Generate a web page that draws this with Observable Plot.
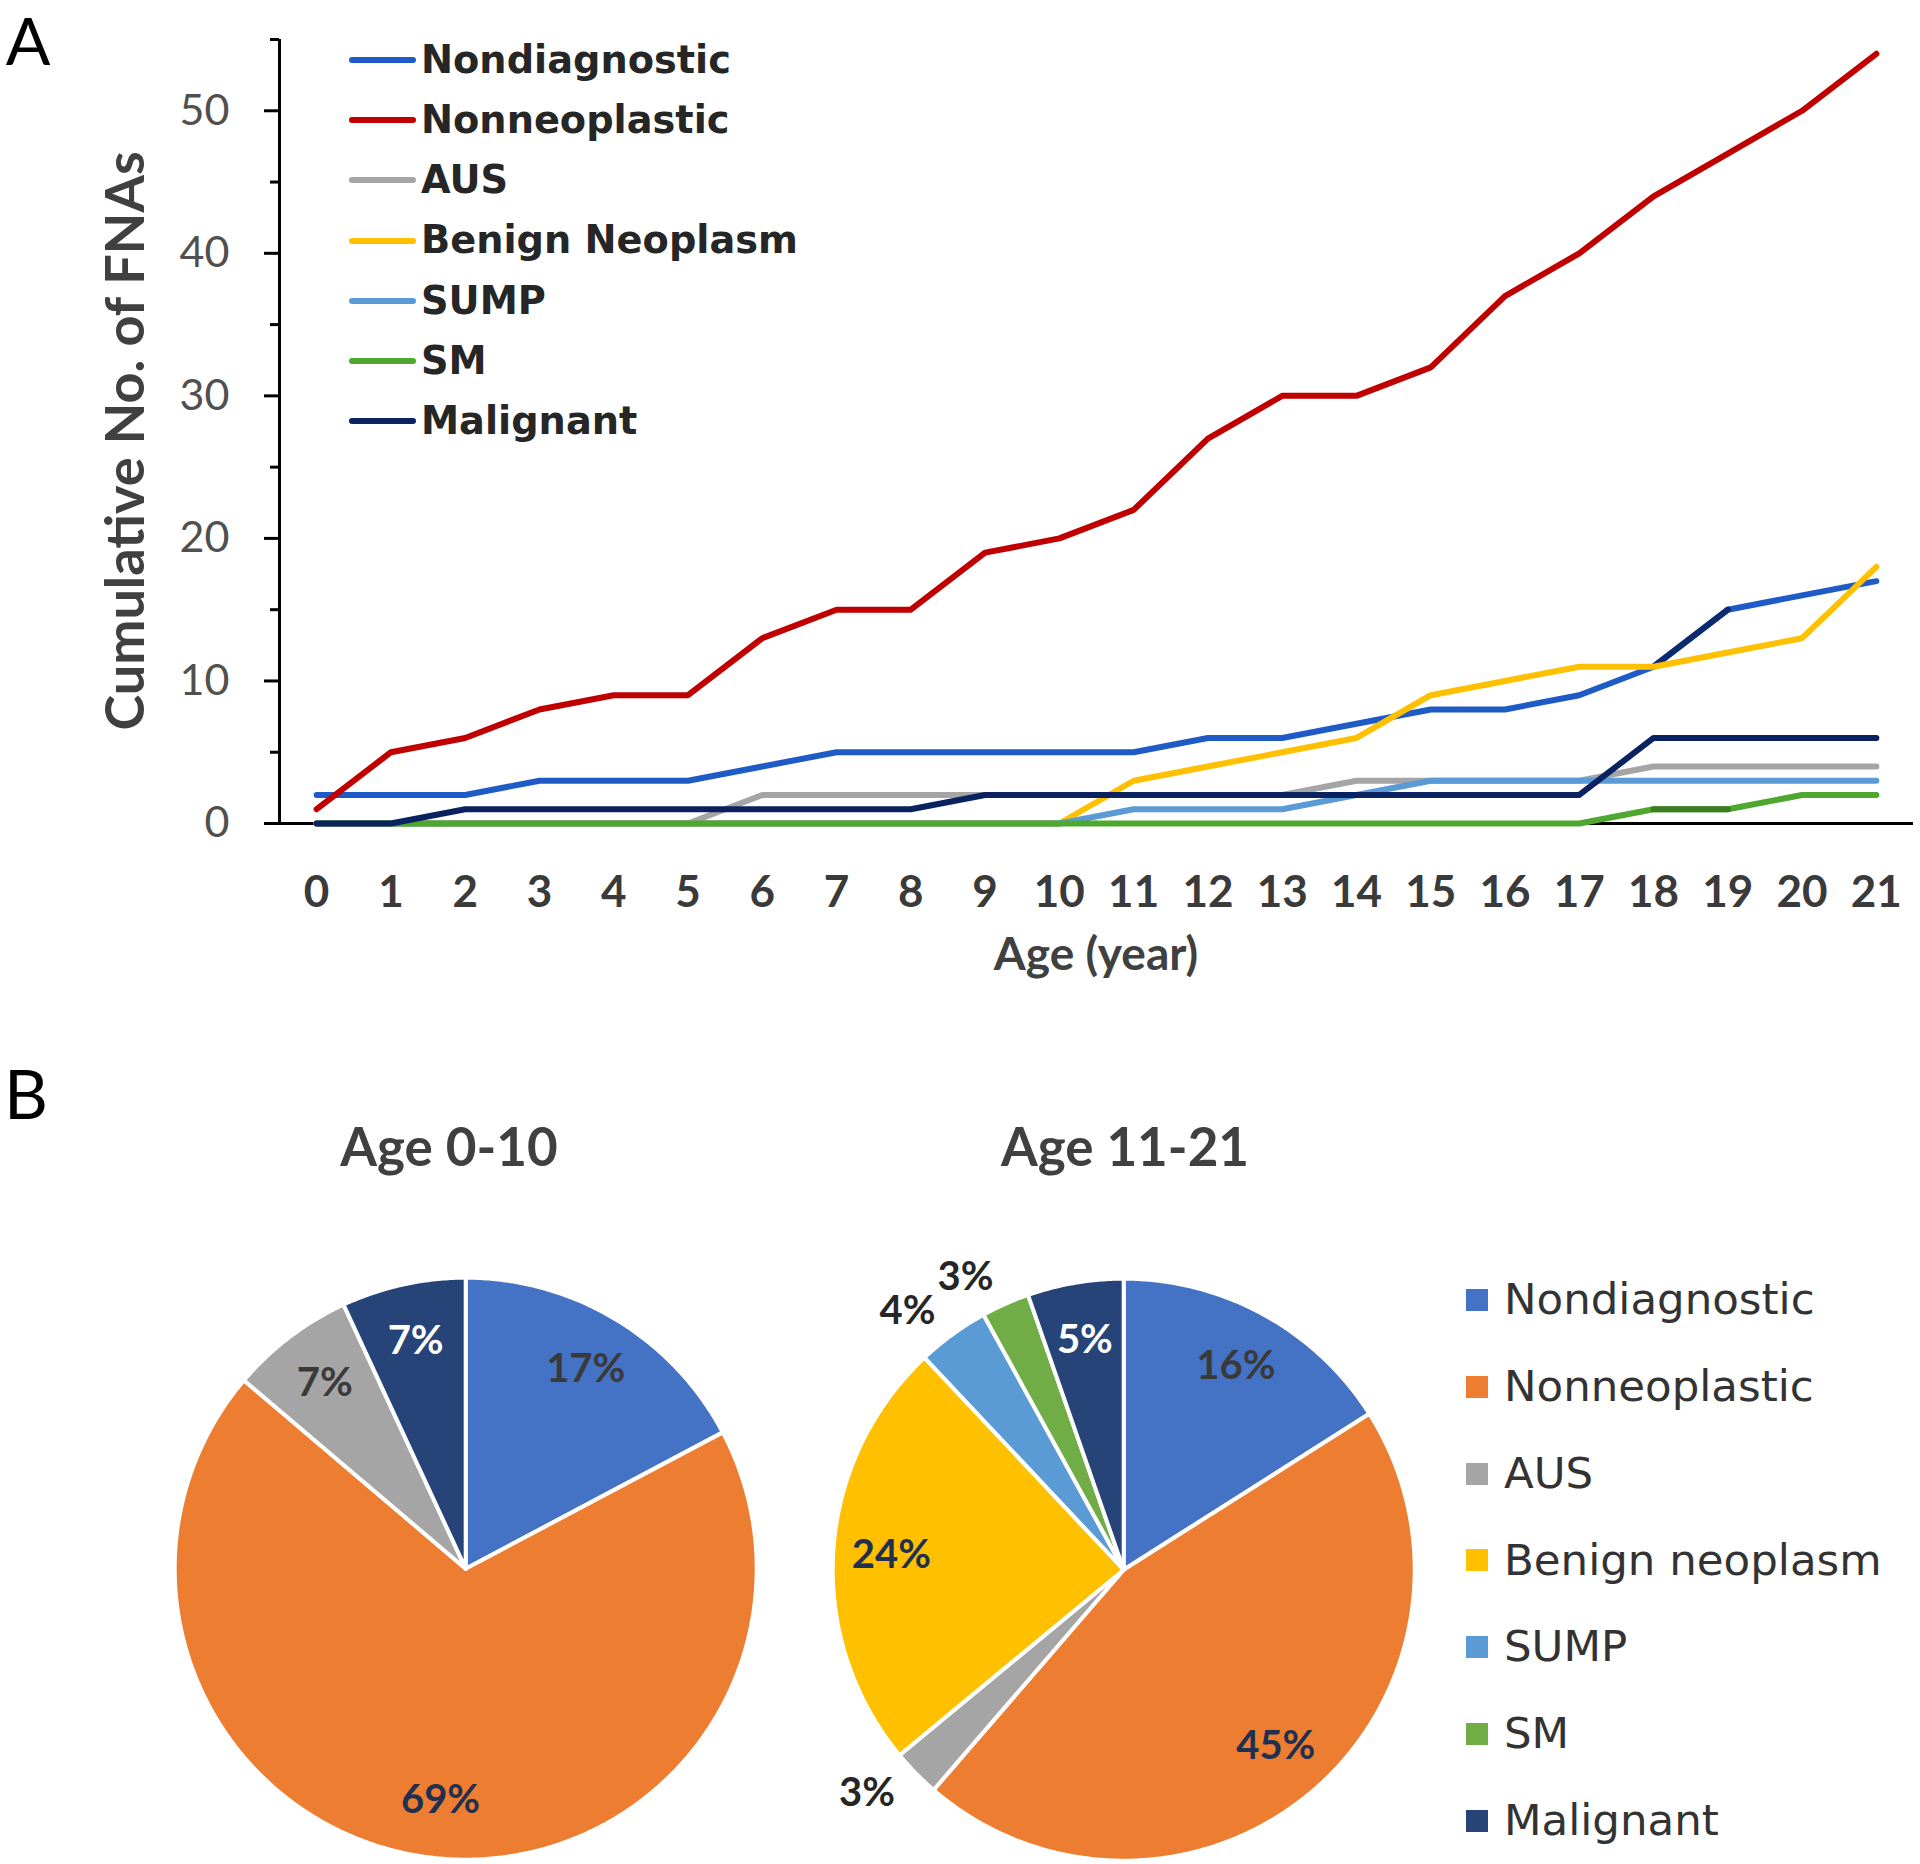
<!DOCTYPE html>
<html>
<head>
<meta charset="utf-8">
<script src="https://cdn.jsdelivr.net/npm/d3@7"></script>
<script src="https://cdn.jsdelivr.net/npm/@observablehq/plot@0.6"></script>
<style>
  html, body { margin: 0; padding: 0; background: #fff; }
  #root { position: relative; width: 1920px; height: 1864px; overflow: hidden; font-family: Lato, "Open Sans", sans-serif; }
  .abs { position: absolute; white-space: nowrap; line-height: 1; }
  .ctr { transform: translate(-50%, -50%); }
  .legrow { position: absolute; display: flex; align-items: center; height: 50px; white-space: nowrap; }
</style>
</head>
<body>
<div id="root"></div>
<script>
// ---------- DATA ----------
const ages = [0,1,2,3,4,5,6,7,8,9,10,11,12,13,14,15,16,17,18,19,20,21];
const seriesNames = ["Nondiagnostic","Nonneoplastic","AUS","Benign Neoplasm","SUMP","SM","Malignant"];
const nondiagnostic  = [2,2,2,3,3,3,4,5,5,5,5,5,6,6,7,8,8,9,11,15,16,17];
const nonneoplastic  = [1,5,6,8,9,9,13,15,15,19,20,22,27,30,30,32,37,40,44,47,50,54];
const aus            = [0,0,0,0,0,0,2,2,2,2,2,2,2,2,3,3,3,3,4,4,4,4];
const benignNeoplasm = [0,0,0,0,0,0,0,0,0,0,0,3,4,5,6,9,10,11,11,12,13,18];
const sump           = [0,0,0,0,0,0,0,0,0,0,0,1,1,1,2,3,3,3,3,3,3,3];
const sm             = [0,0,0,0,0,0,0,0,0,0,0,0,0,0,0,0,0,0,1,1,2,2];
const malignant      = [0,0,1,1,1,1,1,1,1,2,2,2,2,2,2,2,2,2,6,6,6,6];
const yMajorTicks = [0,10,20,30,40,50];
const yMinorTicks = [5,15,25,35,45,55];

const pieCategories = ["Nondiagnostic","Nonneoplastic","AUS","Benign neoplasm","SUMP","SM","Malignant"];
const age0to10Counts  = [5,20,2,0,0,0,2];
const age11to21Counts = [12,34,2,18,3,2,4];
const pieTitles = ["Age 0-10","Age 11-21"];

// ---------- STYLES ----------
const lineColors = ["#1F5BC6","#C00000","#A5A5A5","#FFC000","#5B9BD5","#4EA72E","#0B2260"];
const segmentOverrides = [
  {series: "Nondiagnostic", from: 18, to: 19, color: "#0C2B6E"},
  {series: "SM", from: 18, to: 19, color: "#3B7D20"}
];
const pieColors = ["#4472C4","#ED7D31","#A5A5A5","#FFC000","#5B9BD5","#70AD47","#264478"];
const pieLabelColors = ["#3a3a3a","#1F3050","#3a3a3a","#1F3050","#3a3a3a","#3a3a3a","#ffffff"];
const outsideLabelColor = "#262626";

const root = document.getElementById("root");
function addDiv(cls, text, css) {
  const d = document.createElement("div");
  d.className = cls;
  d.textContent = text;
  Object.assign(d.style, css);
  root.appendChild(d);
  return d;
}
function place(svg, left, top) {
  svg.style.position = "absolute";
  svg.style.left = left + "px";
  svg.style.top = top + "px";
  svg.style.maxWidth = "none";
  root.appendChild(svg);
}

// ---------- PANEL A: line chart ----------
const seriesValues = [nondiagnostic, nonneoplastic, aus, benignNeoplasm, sump, sm, malignant];
const lineData = seriesNames.flatMap((s, i) => ages.map((a, j) => ({series: s, age: a, value: seriesValues[i][j]})));
const xDomain = [ages[0] - 0.5, ages[ages.length - 1] + 0.5];
const LW = 6;

const lineMarks = seriesNames.flatMap(s => {
  const rows = lineData.filter(d => d.series === s);
  const marks = [Plot.line(rows, {x: "age", y: "value", stroke: "series", strokeWidth: LW, strokeLinejoin: "round", strokeLinecap: "round"})];
  segmentOverrides.filter(o => o.series === s).forEach(o => {
    marks.push(Plot.line(rows.filter(d => d.age >= o.from && d.age <= o.to),
      {x: "age", y: "value", stroke: o.color, strokeWidth: LW, strokeLinejoin: "round", strokeLinecap: "round"}));
  });
  return marks;
});

const lineChart = Plot.plot({
  width: 1920, height: 1000,
  marginLeft: 279, marginRight: 7, marginTop: 39, marginBottom: 177,
  x: {domain: xDomain},
  y: {domain: [0, 55]},
  color: {domain: seriesNames, range: lineColors},
  style: {fontFamily: "Lato, sans-serif", background: "transparent", overflow: "visible"},
  marks: [
    Plot.ruleY([0], {stroke: "black", strokeWidth: 3}),
    Plot.ruleX([xDomain[0]], {stroke: "black", strokeWidth: 3}),
    Plot.axisY(yMajorTicks, {tickSize: 15, tickPadding: 35, stroke: "black", strokeWidth: 3, fill: "#505050", fontSize: 43, label: null}),
    Plot.axisY(yMinorTicks, {tickSize: 9, stroke: "black", strokeWidth: 3, fill: "none", label: null}),
    Plot.axisX(ages, {tickSize: 0, tickPadding: 52, fill: "#3a3a3a", fontSize: 44, fontWeight: "bold", label: null}),
    ...lineMarks
  ]
});
place(lineChart, 0, 0);

// panel letters & axis titles
addDiv("abs", "A", {left: "28px", top: "0px", fontSize: "66px", color: "#000", lineHeight: "normal", transform: "translateX(-50%)"});
addDiv("abs ctr", "B", {left: "26px", top: "1093px", fontSize: "68px", color: "#000"});
addDiv("abs", "Cumulative No. of FNAs", {left: "124px", top: "441px", fontSize: "54px", fontWeight: "bold", color: "#404040",
  transform: "translate(-50%,-50%) rotate(-90deg)"});
addDiv("abs ctr", "Age (year)", {left: "1096px", top: "953px", fontSize: "46px", fontWeight: "bold", color: "#404040"});

// line legend
seriesNames.forEach((s, i) => {
  const row = document.createElement("div");
  row.className = "legrow";
  row.style.left = "349px";
  row.style.top = (60 + i * 60.2 - 25) + "px";
  const sw = document.createElement("span");
  Object.assign(sw.style, {display: "inline-block", width: "67px", height: "6px", borderRadius: "3px", background: lineColors[i]});
  const tx = document.createElement("span");
  tx.textContent = s;
  Object.assign(tx.style, {fontFamily: "'DejaVu Sans', sans-serif", fontWeight: "bold", fontSize: "38.3px", color: "#262626", marginLeft: "5px", lineHeight: "1"});
  row.appendChild(sw); row.appendChild(tx);
  root.appendChild(row);
});

// ---------- PANEL B: pies ----------
const U = 291; // px per unit radius
function pieChart(values) {
  const total = d3.sum(values);
  const arcs = d3.pie().sort(null).value(d => d)(values);
  const poly = [], labels = [];
  arcs.forEach((a, i) => {
    if (!values[i]) return;
    const cat = pieCategories[i];
    const n = Math.max(2, Math.ceil((a.endAngle - a.startAngle) / (Math.PI / 360)));
    poly.push({cat, x: 0, y: 0});
    for (let k = 0; k <= n; k++) {
      const t = a.startAngle + (a.endAngle - a.startAngle) * k / n;
      poly.push({cat, x: Math.sin(t), y: Math.cos(t)});
    }
    poly.push({cat, x: 0, y: 0});
    const frac = values[i] / total;
    const mid = (a.startAngle + a.endAngle) / 2;
    const outside = frac < 0.045;
    const rr = outside ? 1.1 : 0.8;
    labels.push({
      text: d3.format(".0%")(frac),
      x: rr * Math.sin(mid), y: rr * Math.cos(mid),
      anchor: outside ? (Math.sin(mid) < 0 ? "end" : "start") : "middle",
      color: outside ? outsideLabelColor : pieLabelColors[i]
    });
  });
  const groups = d3.groups(labels, d => d.anchor + "|" + d.color);
  const dom = [-1.2, 1.2];
  return Plot.plot({
    width: U * 2.4, height: U * 2.4, margin: 0,
    x: {domain: dom, axis: null},
    y: {domain: dom, axis: null},
    color: {domain: pieCategories, range: pieColors},
    style: {background: "transparent", overflow: "visible", fontFamily: "Lato, sans-serif"},
    marks: [
      Plot.line(poly, {x: "x", y: "y", z: "cat", fill: "cat", stroke: "white", strokeWidth: 4, strokeLinejoin: "round"}),
      ...groups.map(([k, arr]) => Plot.text(arr, {x: "x", y: "y", text: "text", textAnchor: arr[0].anchor,
        fill: arr[0].color, fontSize: 40, fontWeight: "bold"}))
    ]
  });
}
const pieCenters = [[465, 1568], [1123, 1569]];
[age0to10Counts, age11to21Counts].forEach((vals, i) => {
  const svg = pieChart(vals);
  place(svg, pieCenters[i][0] - 1.2 * U, pieCenters[i][1] - 1.2 * U);
});
addDiv("abs ctr", pieTitles[0], {left: "449px", top: "1145px", fontSize: "53px", fontWeight: "bold", color: "#404040"});
addDiv("abs ctr", pieTitles[1], {left: "1125px", top: "1145px", fontSize: "53px", fontWeight: "bold", color: "#404040"});

// pie legend
pieCategories.forEach((c, i) => {
  const row = document.createElement("div");
  row.className = "legrow";
  row.style.left = "1466px";
  row.style.top = (1300 + i * 86.8 - 25) + "px";
  const sw = document.createElement("span");
  Object.assign(sw.style, {display: "inline-block", width: "22px", height: "22px", background: pieColors[i]});
  const tx = document.createElement("span");
  tx.textContent = c;
  Object.assign(tx.style, {fontFamily: "'DejaVu Sans', sans-serif", fontSize: "43.5px", color: "#333", marginLeft: "16px", lineHeight: "1"});
  row.appendChild(sw); row.appendChild(tx);
  root.appendChild(row);
});
</script>
</body>
</html>
